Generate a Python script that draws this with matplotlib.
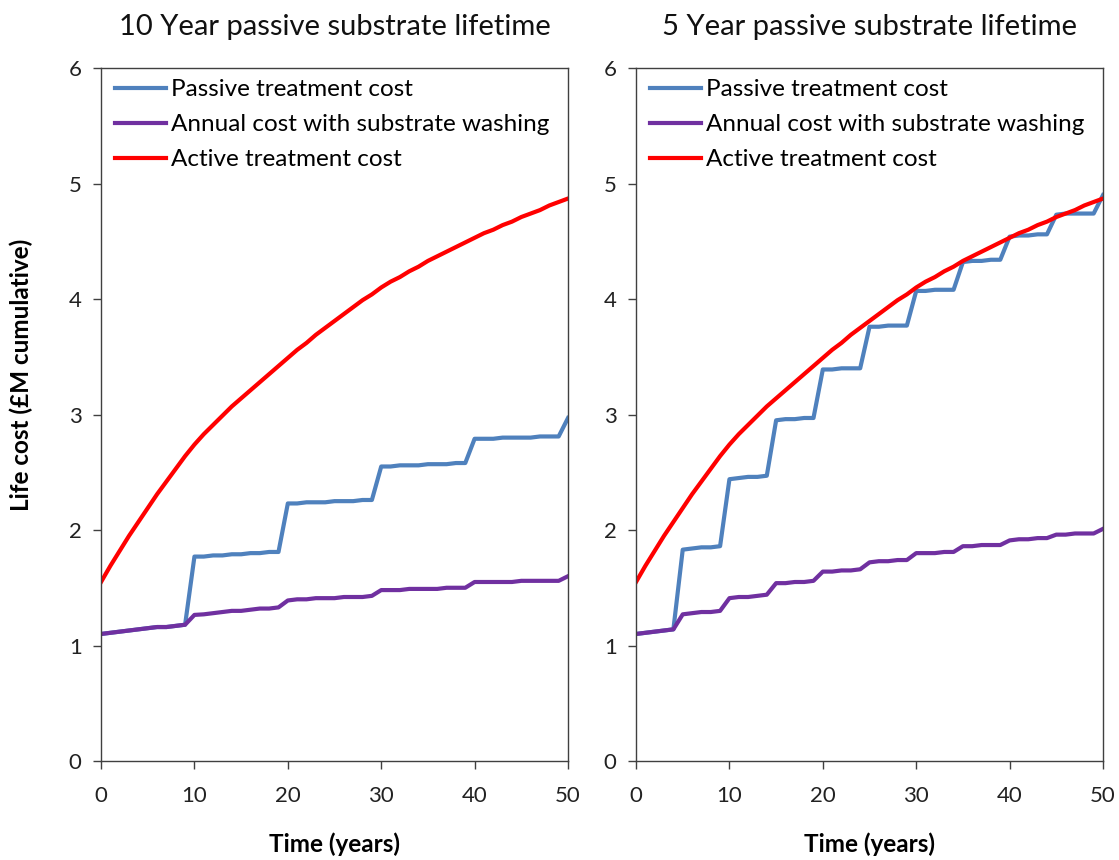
import matplotlib
matplotlib.use("Agg")
import matplotlib.pyplot as plt

plt.rcParams['font.family'] = ['Lato', 'DejaVu Sans']

years = list(range(0, 51))

# Active treatment cost (same in both panels)
active = [1.55, 1.69, 1.82, 1.95, 2.07, 2.19, 2.31, 2.42, 2.53, 2.64,
          2.74, 2.83, 2.91, 2.99, 3.07, 3.14, 3.21, 3.28, 3.35, 3.42,
          3.49, 3.56, 3.62, 3.69, 3.75, 3.81, 3.87, 3.93, 3.99, 4.04,
          4.10, 4.15, 4.19, 4.24, 4.28, 4.33, 4.37, 4.41, 4.45, 4.49,
          4.53, 4.57, 4.60, 4.64, 4.67, 4.71, 4.74, 4.77, 4.81, 4.84,
          4.87]

# 10 year substrate lifetime
passive_10 = [1.10, 1.11, 1.12, 1.13, 1.14, 1.15, 1.16, 1.16, 1.17, 1.18,
              1.77, 1.77, 1.78, 1.78, 1.79, 1.79, 1.80, 1.80, 1.81, 1.81,
              2.23, 2.23, 2.24, 2.24, 2.24, 2.25, 2.25, 2.25, 2.26, 2.26,
              2.55, 2.55, 2.56, 2.56, 2.56, 2.57, 2.57, 2.57, 2.58, 2.58,
              2.79, 2.79, 2.79, 2.80, 2.80, 2.80, 2.80, 2.81, 2.81, 2.81,
              2.97]
washing_10 = [1.10, 1.11, 1.12, 1.13, 1.14, 1.15, 1.16, 1.16, 1.17, 1.18,
              1.265, 1.27, 1.28, 1.29, 1.30, 1.30, 1.31, 1.32, 1.32, 1.33,
              1.39, 1.40, 1.40, 1.41, 1.41, 1.41, 1.42, 1.42, 1.42, 1.43,
              1.48, 1.48, 1.48, 1.49, 1.49, 1.49, 1.49, 1.50, 1.50, 1.50,
              1.55, 1.55, 1.55, 1.55, 1.55, 1.56, 1.56, 1.56, 1.56, 1.56,
              1.60]

# 5 year substrate lifetime
passive_5 = [1.10, 1.11, 1.12, 1.13, 1.14,
             1.83, 1.84, 1.85, 1.85, 1.86,
             2.44, 2.45, 2.46, 2.46, 2.47,
             2.95, 2.96, 2.96, 2.97, 2.97,
             3.39, 3.39, 3.40, 3.40, 3.40,
             3.76, 3.76, 3.77, 3.77, 3.77,
             4.07, 4.07, 4.08, 4.08, 4.08,
             4.32, 4.33, 4.33, 4.34, 4.34,
             4.54, 4.55, 4.55, 4.56, 4.56,
             4.73, 4.74, 4.74, 4.74, 4.74,
             4.90]
washing_5 = [1.10, 1.11, 1.12, 1.13, 1.14,
             1.27, 1.28, 1.29, 1.29, 1.30,
             1.41, 1.42, 1.42, 1.43, 1.44,
             1.54, 1.54, 1.55, 1.55, 1.56,
             1.64, 1.64, 1.65, 1.65, 1.66,
             1.72, 1.73, 1.73, 1.74, 1.74,
             1.80, 1.80, 1.80, 1.81, 1.81,
             1.86, 1.86, 1.87, 1.87, 1.87,
             1.91, 1.92, 1.92, 1.93, 1.93,
             1.96, 1.96, 1.97, 1.97, 1.97,
             2.01]

titles = ["10 Year passive substrate lifetime", "5 Year passive substrate lifetime"]
panels = [(passive_10, washing_10), (passive_5, washing_5)]

fig = plt.figure(figsize=(11.19, 8.6), dpi=100)
ax_left = fig.add_axes([0.0903, 0.1151, 0.4173, 0.8058])
ax_right = fig.add_axes([0.5684, 0.1151, 0.4173, 0.8058])

for ax, title, (passive, washing) in zip([ax_left, ax_right], titles, panels):
    ax.plot(years, passive, color='#4F81BD', lw=3, label='Passive treatment cost')
    ax.plot(years, washing, color='#7030A0', lw=3, label='Annual cost with substrate washing')
    ax.plot(years, active, color='#FF0000', lw=3, label='Active treatment cost')
    ax.set_xlim(0, 50)
    ax.set_ylim(0, 6)
    ax.set_xticks([0, 10, 20, 30, 40, 50])
    ax.set_yticks([0, 1, 2, 3, 4, 5, 6])
    ax.tick_params(direction='out', length=6, width=1, labelsize=16, colors='#404040',
                   labelcolor='#222222', pad=8)
    ax.tick_params(axis='x', pad=12)
    for sp in ax.spines.values():
        sp.set_color('#404040')
        sp.set_linewidth(1)
    ax.set_title(title, fontsize=21, pad=24, color='#111111')
    ax.set_xlabel('Time (years)', fontsize=17.5, fontweight='bold')
    ax.xaxis.set_label_coords(0.5, -0.103)
    ax.legend(loc='upper left', bbox_to_anchor=(0.019, 0.991), frameon=False,
              fontsize=17.5, handlelength=2.1, handletextpad=0.2,
              borderaxespad=0, labelspacing=0.58, borderpad=0.2)

ax_left.set_ylabel('Life cost (£M cumulative)', fontsize=17.5, fontweight='bold')
ax_left.yaxis.set_label_coords(-0.146, 0.557)

fig.savefig('out.png', dpi=100)
